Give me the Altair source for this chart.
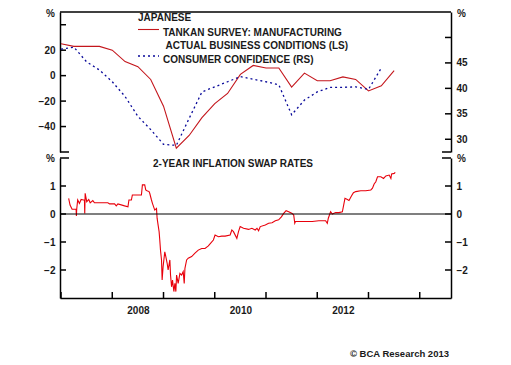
import altair as alt
import pandas as pd

# ---------------- data ----------------
# Tankan large manufacturers DI (quarter ends, decimal years) - left scale
tankan_t = [2007.0, 2007.25, 2007.5, 2007.75, 2008.0, 2008.25, 2008.5, 2008.75,
            2009.0, 2009.25, 2009.5, 2009.75, 2010.0, 2010.25, 2010.5, 2010.75,
            2011.0, 2011.25, 2011.5, 2011.75, 2012.0, 2012.25, 2012.5, 2012.75,
            2013.0, 2013.25, 2013.5]
tankan_v = [25, 23, 23, 23, 20, 11, 7, -3, -24, -57, -47, -33, -22, -14, 1, 8,
            6, 6, -9, 2, -4, -4, -1, -3, -12, -8, 4]

# Consumer confidence (quarterly) - right scale
cc_t = [2007.0, 2007.25, 2007.5, 2007.75, 2008.0, 2008.25, 2008.5, 2008.75,
        2009.0, 2009.25, 2009.5, 2009.75, 2010.0, 2010.25, 2010.5, 2010.75,
        2011.0, 2011.25, 2011.5, 2011.75, 2012.0, 2012.25, 2012.5, 2012.75,
        2013.0, 2013.25]
cc_v = [47.7, 48.1, 45.2, 43.6, 41.3, 38.4, 34.5, 31.9, 29.0, 28.8, 34.1, 39.3,
        40.3, 41.3, 42.3, 41.8, 41.3, 40.7, 34.8, 37.7, 39.3, 40.2, 40.2, 40.3,
        39.8, 44.0]

# 2-year inflation swap rate
swap_t = [2007.149, 2007.176, 2007.216, 2007.294, 2007.300, 2007.306, 2007.325, 2007.359,
          2007.392, 2007.437, 2007.457, 2007.463, 2007.471, 2007.502, 2007.541, 2007.569,
          2007.620, 2007.653, 2007.914, 2007.947, 2008.045, 2008.078, 2008.110, 2008.241,
          2008.306, 2008.325, 2008.373, 2008.392, 2008.569, 2008.588, 2008.633, 2008.653,
          2008.678, 2008.718, 2008.731, 2008.765, 2008.784, 2008.829, 2008.863, 2008.875,
          2008.894, 2008.914, 2008.927, 2008.941, 2008.961, 2008.973, 2008.992, 2009.025,
          2009.045, 2009.071, 2009.090, 2009.124, 2009.137, 2009.157, 2009.176, 2009.202,
          2009.222, 2009.241, 2009.255, 2009.286, 2009.320, 2009.353, 2009.384, 2009.404,
          2009.418, 2009.451, 2009.482, 2009.549, 2009.614, 2009.678, 2009.745, 2009.810,
          2009.875, 2009.908, 2009.973, 2010.006, 2010.071, 2010.137, 2010.202, 2010.300,
          2010.333, 2010.365, 2010.431, 2010.463, 2010.496, 2010.561, 2010.659, 2010.725,
          2010.790, 2010.824, 2010.855, 2010.888, 2010.986, 2011.051, 2011.118, 2011.182,
          2011.247, 2011.300, 2011.345, 2011.392, 2011.443, 2011.510, 2011.541, 2011.561,
          2011.575, 2011.771, 2011.902, 2012.031, 2012.163, 2012.196, 2012.216, 2012.261,
          2012.294, 2012.359, 2012.424, 2012.490, 2012.522, 2012.541, 2012.588, 2012.620,
          2012.667, 2012.706, 2012.751, 2012.849, 2012.947, 2013.045, 2013.078, 2013.110,
          2013.143, 2013.176, 2013.241, 2013.294, 2013.339, 2013.404, 2013.437, 2013.451,
          2013.502, 2013.522]
swap_v = [0.56, 0.32, 0.17, 0.17, -0.07, 0.17, 0.50, 0.38,
          0.52, 0.50, 0.50, 0.02, 0.74, 0.44, 0.52, 0.40,
          0.48, 0.40, 0.40, 0.36, 0.36, 0.29, 0.36, 0.29,
          0.26, 0.50, 0.50, 0.68, 0.68, 1.04, 1.04, 0.86,
          0.83, 0.80, 0.74, 0.50, 0.38, 0.14, 0.20, -0.15,
          -0.39, -0.63, -0.93, -1.29, -1.64, -2.36, -1.88, -1.35,
          -1.52, -1.76, -2.00, -1.64, -2.18, -2.60, -2.36, -2.77,
          -2.48, -2.77, -2.18, -2.48, -2.12, -2.18, -2.06, -2.48,
          -1.94, -1.64, -1.58, -1.52, -1.40, -1.29, -1.23, -1.23,
          -1.14, -1.07, -0.93, -0.75, -0.81, -0.79, -0.79, -0.75,
          -0.57, -0.63, -0.87, -0.63, -0.45, -0.51, -0.55, -0.51,
          -0.57, -0.51, -0.60, -0.45, -0.39, -0.33, -0.31, -0.24,
          -0.21, -0.10, 0.02, 0.12, 0.08, 0.02, -0.04, -0.33,
          -0.27, -0.27, -0.27, -0.24, -0.24, -0.33, -0.15, 0.08,
          0.00, 0.05, 0.05, 0.08, 0.38, 0.56, 0.52, 0.48,
          0.64, 0.76, 0.80, 0.83, 0.83, 0.86, 0.92, 1.07,
          1.15, 1.33, 1.33, 1.27, 1.36, 1.39, 1.27, 1.43,
          1.45, 1.49]

# axis ticks / labels
top_left_ticks = [40, 20, 0, -20, -40]
top_left_labels = [20, 0, -20, -40]
top_right_ticks = [50, 45, 40, 35, 30]
top_right_labels = [45, 40, 35, 30]
bot_ticks = [1, 0, -1, -2]
year_ticks = [2007, 2008, 2009, 2010, 2011, 2012, 2013, 2014]
year_label_pos = [2008.5, 2010.5, 2012.5]

legend_title = "JAPANESE"
legend_texts = ["TANKAN SURVEY: MANUFACTURING", "ACTUAL BUSINESS CONDITIONS (LS)",
                "CONSUMER CONFIDENCE (RS)"]
bottom_title = "2-YEAR INFLATION SWAP RATES"
credit = "© BCA Research 2013"

# ---------------- styling ----------------
W, H1, H2 = 391, 140, 140
XDOM = [2006.98, 2014.61]
FONT = "Liberation Sans"
RED1 = "#c4161c"
RED2 = "#e8000b"
BLUE = "#0a0a9a"
TXT = "#1a1a1a"
AXW = 1.5

xs = alt.Scale(domain=XDOM, nice=False, zero=False)
one = pd.DataFrame({"a": [0]})


def yaxis(values, orient, titlex, titley=1):
    return alt.Axis(values=values, orient=orient, title="%", titleAngle=0, titleX=titlex,
                    titleY=titley, titleAlign="center", titleBaseline="middle",
                    tickSize=0, labelPadding=5, grid=False)


def txt(s, x, y, size=10, align="left"):
    return alt.Chart(one).mark_text(text=s, font=FONT, fontWeight="bold", fontSize=size,
                                    color=TXT, align=align, baseline="middle").encode(
        x=alt.value(x), y=alt.value(y))


# ---------------- top panel ----------------
ly = alt.Scale(domain=[-60, 50], nice=False, zero=False)
ry = alt.Scale(domain=[27.5, 55], nice=False, zero=False)
lax = yaxis(top_left_labels, "left", -10, 1)
rax = yaxis(top_right_labels, "right", 10, 1)

tank = alt.Chart(pd.DataFrame({"t": tankan_t, "v": tankan_v})).mark_line(
    color=RED1, strokeWidth=1.1).encode(
    x=alt.X("t:Q", scale=xs, axis=None), y=alt.Y("v:Q", scale=ly, axis=lax))
ltk = alt.Chart(pd.DataFrame({"v": top_left_ticks})).mark_rule(
    color="black", strokeWidth=AXW).encode(
    y=alt.Y("v:Q", scale=ly, axis=lax), x=alt.value(0), x2=alt.value(6))
lend = alt.Chart(pd.DataFrame({"v": [-60]})).mark_rule(
    color="black", strokeWidth=AXW).encode(
    y=alt.Y("v:Q", scale=ly, axis=lax), x=alt.value(0), x2=alt.value(9))
left_top = alt.layer(tank, ltk, lend)

cc = alt.Chart(pd.DataFrame({"t": cc_t, "v": cc_v})).mark_line(
    color=BLUE, strokeWidth=1.3, strokeDash=[2, 3]).encode(
    x=alt.X("t:Q", scale=xs, axis=None), y=alt.Y("v:Q", scale=ry, axis=rax))
rtk = alt.Chart(pd.DataFrame({"v": top_right_ticks})).mark_rule(
    color="black", strokeWidth=AXW).encode(
    y=alt.Y("v:Q", scale=ry, axis=rax), x=alt.value(W - 6), x2=alt.value(W))
rend = alt.Chart(pd.DataFrame({"v": [27.5]})).mark_rule(
    color="black", strokeWidth=AXW).encode(
    y=alt.Y("v:Q", scale=ry, axis=rax), x=alt.value(W - 9), x2=alt.value(W))
border = alt.Chart(one).mark_rule(color="black", strokeWidth=AXW).encode(
    x=alt.value(0), x2=alt.value(W), y=alt.value(0))
leg_red = alt.Chart(one).mark_rule(color=RED1, strokeWidth=1.1).encode(
    x=alt.value(78), x2=alt.value(99), y=alt.value(17.5))
leg_blue = alt.Chart(one).mark_rule(color=BLUE, strokeWidth=1.3, strokeDash=[2, 3]).encode(
    x=alt.value(78), x2=alt.value(99), y=alt.value(44))
right_top = alt.layer(cc, rtk, rend, border, leg_red, leg_blue,
                      txt(legend_title, 78, 5.5),
                      txt(legend_texts[0], 103, 20.5),
                      txt(legend_texts[1], 105.5, 34),
                      txt(legend_texts[2], 103, 48))

top = alt.layer(left_top, right_top).resolve_scale(y="independent").properties(
    width=W, height=H1)

# ---------------- bottom panel ----------------
by = alt.Scale(domain=[-3, 2], nice=False, zero=False)
blax = yaxis(bot_ticks, "left", -10, 0)
brax = yaxis(bot_ticks, "right", 10, 0)
xax = alt.Axis(values=year_label_pos, labelExpr="'' + floor(datum.value)", tickSize=0,
               labelPadding=7, title=None, grid=False)

swap = alt.Chart(pd.DataFrame({"t": swap_t, "v": swap_v})).mark_line(
    color=RED2, strokeWidth=1.1).encode(
    x=alt.X("t:Q", scale=xs, axis=xax), y=alt.Y("v:Q", scale=by, axis=blax))
bltk = alt.Chart(pd.DataFrame({"v": bot_ticks})).mark_rule(
    color="black", strokeWidth=AXW).encode(
    y=alt.Y("v:Q", scale=by, axis=blax), x=alt.value(0), x2=alt.value(6))
blend = alt.Chart(pd.DataFrame({"v": [2]})).mark_rule(
    color="black", strokeWidth=AXW).encode(
    y=alt.Y("v:Q", scale=by, axis=blax), x=alt.value(0), x2=alt.value(9))
xtk = alt.Chart(pd.DataFrame({"t": year_ticks})).mark_rule(
    color="black", strokeWidth=AXW).encode(
    x=alt.X("t:Q", scale=xs, axis=xax), y=alt.value(H2 - 6), y2=alt.value(H2))
left_bot = alt.layer(swap, bltk, blend, xtk)

zero = alt.Chart(pd.DataFrame({"v": [0]})).mark_rule(color="black", strokeWidth=1.2).encode(
    y=alt.Y("v:Q", scale=by, axis=brax))
brtk = alt.Chart(pd.DataFrame({"v": bot_ticks})).mark_rule(
    color="black", strokeWidth=AXW).encode(
    y=alt.Y("v:Q", scale=by, axis=brax), x=alt.value(W - 6), x2=alt.value(W))
brend = alt.Chart(pd.DataFrame({"v": [2]})).mark_rule(
    color="black", strokeWidth=AXW).encode(
    y=alt.Y("v:Q", scale=by, axis=brax), x=alt.value(W - 9), x2=alt.value(W))
right_bot = alt.layer(zero, brtk, brend,
                      txt(bottom_title, 93, 6),
                      txt(credit, 389, 196, size=9.5, align="right"))

bottom = alt.layer(left_bot, right_bot).resolve_scale(y="independent").properties(
    width=W, height=H2)

chart = alt.vconcat(top, bottom, spacing=6, bounds="flush").properties(
    padding={"left": 30, "top": 0, "right": 5, "bottom": 2}
).configure_view(stroke=None).configure_axis(
    labelFont=FONT, labelFontWeight="bold", labelFontSize=10, labelColor=TXT,
    titleFont=FONT, titleFontWeight="bold", titleFontSize=10, titleColor=TXT,
    domainColor="black", domainWidth=AXW
)

chart.save("out.html", embed_options={"renderer": "svg", "actions": False})
